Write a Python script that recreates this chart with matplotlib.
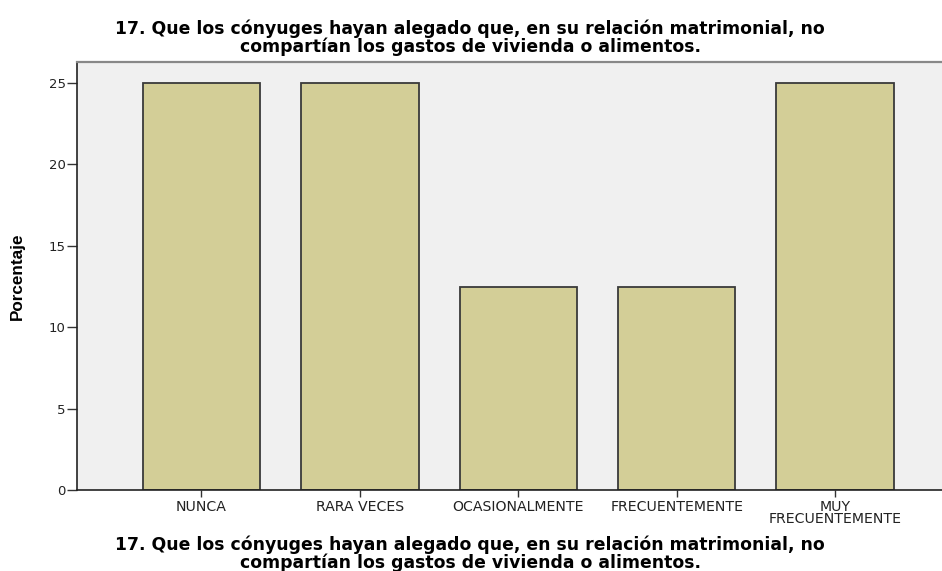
import matplotlib
matplotlib.use("Agg")
import matplotlib.pyplot as plt

categories = ["NUNCA", "RARA VECES", "OCASIONALMENTE", "FRECUENTEMENTE", "MUY\nFRECUENTEMENTE"]
values = [25.0, 25.0, 12.5, 12.5, 25.0]
yticks = [0, 5, 10, 15, 20, 25]
title_lines = ["17. Que los cónyuges hayan alegado que, en su relación matrimonial, no",
               "compartían los gastos de vivienda o alimentos."]

plt.rcParams['font.family'] = ['DejaVu Sans']

fig = plt.figure(figsize=(9.42, 5.71), dpi=100)
ax = fig.add_axes([77/942, 81/571, 865/942, 428/571])
ax.set_facecolor('#F0F0F0')

x = list(range(len(categories)))
ax.bar(x, values, width=0.74, color='#D3CE97', edgecolor='#3a3a3a', linewidth=1.3, zorder=2)

ax.set_xlim(-0.786, 4.675)
ax.set_ylim(0, 26.29)
ax.set_yticks(yticks)
ax.set_yticklabels([str(t) for t in yticks], fontsize=9.5, color='#222222')
ax.set_xticks(x)
ax.set_xticklabels(categories, fontsize=10.2, linespacing=0.75, color='#222222')
ax.tick_params(axis='y', length=7, width=1, color='#333333', pad=1)
ax.tick_params(axis='x', length=5, width=1, color='#333333', pad=2.5)

for s in ['left', 'bottom']:
    ax.spines[s].set_color('#222222')
    ax.spines[s].set_linewidth(1.2)
ax.spines['right'].set_visible(False)
ax.spines['top'].set_color('#888888')
ax.spines['top'].set_linewidth(1.6)

ax.set_ylabel("Porcentaje", fontsize=12.3, fontweight='bold',
              family=['Liberation Sans Narrow', 'Liberation Sans'])
ax.yaxis.set_label_coords(-(77 - 25) / 865, 0.5)

for txt, yb in zip(title_lines, [34, 52.5]):
    fig.text(470/942, 1 - yb/571, txt, ha='center', va='baseline', fontsize=12.4, fontweight='bold')
for txt, yb in zip(title_lines, [550.5, 567.5]):
    fig.text(470/942, 1 - yb/571, txt, ha='center', va='baseline', fontsize=12.4, fontweight='bold')

fig.savefig("out.png", dpi=100)
